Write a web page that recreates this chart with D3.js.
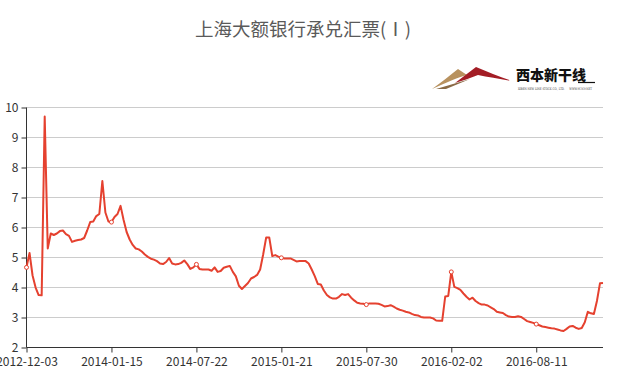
<!DOCTYPE html>
<html><head><meta charset="utf-8">
<script src="https://cdn.jsdelivr.net/npm/d3@7"></script>
<style>body{margin:0;background:#fff;overflow:hidden} svg{display:block}</style>
</head><body>
<script>
// ---- data ----
const title = "上海大额银行承兑汇票(Ⅰ)";
const tickLabels = ["2012-12-03","2014-01-15","2014-07-22","2015-01-21","2015-07-30","2016-02-02","2016-08-11"];
const pointsPerTick = 28;
const yTicks = [2,3,4,5,6,7,8,9,10];
const values = [
 4.67,5.15,4.40,4.00,3.75,3.74,9.70,5.30,5.80,5.75,
 5.80,5.88,5.90,5.78,5.72,5.52,5.56,5.58,5.60,5.65,
 5.90,6.18,6.20,6.38,6.45,7.55,6.50,6.20,6.18,6.35,
 6.45,6.72,6.25,5.85,5.60,5.42,5.30,5.27,5.20,5.10,
 5.02,4.96,4.93,4.88,4.80,4.78,4.85,4.98,4.80,4.77,
 4.78,4.82,4.90,4.78,4.62,4.67,4.77,4.62,4.60,4.60,
 4.60,4.56,4.67,4.52,4.55,4.66,4.69,4.72,4.52,4.37,
 4.06,3.95,4.05,4.15,4.30,4.35,4.42,4.60,5.10,5.67,
 5.67,5.05,5.08,5.03,4.99,4.97,4.97,4.97,4.92,4.87,
 4.88,4.88,4.88,4.80,4.60,4.38,4.12,4.10,3.90,3.75,
 3.67,3.63,3.63,3.69,3.78,3.75,3.78,3.66,3.57,3.49,
 3.47,3.46,3.43,3.47,3.47,3.47,3.46,3.42,3.37,3.38,
 3.41,3.36,3.30,3.26,3.23,3.19,3.17,3.12,3.08,3.07,
 3.02,3.00,3.00,3.00,2.97,2.90,2.89,2.89,3.70,3.72,
 4.52,4.02,3.98,3.92,3.80,3.69,3.60,3.66,3.55,3.48,
 3.43,3.43,3.40,3.34,3.28,3.19,3.17,3.15,3.08,3.03,
 3.02,3.02,3.04,3.02,2.95,2.88,2.85,2.82,2.78,2.74,
 2.70,2.68,2.66,2.64,2.63,2.60,2.57,2.55,2.62,2.70,
 2.72,2.66,2.62,2.65,2.84,3.19,3.14,3.12,3.55,4.14,
 4.15
];

// ---- chart ----
const W = 619, H = 375;
const lineColor = "#e5412f";
const svg = d3.select("body").append("svg").attr("width", W).attr("height", H);

const x = d3.scaleLinear().domain([0, values.length - 1]).range([26.5, 603]);
const y = d3.scaleLinear().domain([2, 10]).range([347.5, 107.5]);

// title
svg.append("text").attr("x", 303).attr("y", 36)
  .attr("text-anchor", "middle")
  .style("font-family", "'Noto Sans CJK SC', sans-serif")
  .style("font-size", "18.5px").style("fill", "#5a5a5a")
  .text(title);

// logo
const logo = svg.append("g");
logo.append("path").attr("d", "M432,89 C442,82 450,75 458,69 L467,75 C458,77 446,83 432,89 Z").attr("fill", "#b8925f");
logo.append("path").attr("d", "M436,89 L470,79 L446,89 Z").attr("fill", "#8a6a45");
logo.append("path").attr("d", "M455,83 C462,78 469,72 476,67 C488,72 500,77 512,81 C500,79 488,77 478,75 C470,78 462,81 455,83 Z").attr("fill", "#a31d25");
logo.append("text").attr("x", 516).attr("y", 80)
  .style("font-family", "'Noto Sans CJK SC', sans-serif").style("font-weight", "900")
  .style("font-size", "14px").style("fill", "#111").text("西本新干线");
logo.append("line").attr("x1", 578).attr("x2", 595).attr("y1", 82.5).attr("y2", 82.5).attr("stroke", "#111").attr("stroke-width", 1.2);
logo.append("text").attr("x", 518).attr("y", 90).attr("textLength", 74).attr("lengthAdjust", "spacingAndGlyphs")
  .style("font-family", "'DejaVu Serif', serif").style("font-size", "3.4px").style("fill", "#333")
  .text("XIBEN NEW LINE STOCK CO., LTD.\u00a0\u00a0\u00a0\u00a0\u00a0\u00a0WWW.96369.NET");

// gridlines
svg.append("g").selectAll("line").data(yTicks.filter(d => d > 2)).join("line")
  .attr("x1", x(0)).attr("x2", x(values.length - 1))
  .attr("y1", d => y(d)).attr("y2", d => y(d))
  .attr("stroke", "#cccccc").attr("stroke-width", 1);

// axes
const fontFam = "'Noto Sans CJK SC', 'Noto Sans', sans-serif";
const yAxis = svg.append("g").attr("transform", `translate(${x(0)},0)`)
  .call(d3.axisLeft(y).tickValues(yTicks).tickSize(5).tickPadding(3).tickFormat(d3.format("d")));
const tickIdx = tickLabels.map((_, i) => i * pointsPerTick);
const xAxis = svg.append("g").attr("transform", `translate(0,${y(2)})`)
  .call(d3.axisBottom(x).tickValues(tickIdx).tickSize(5).tickPadding(5)
    .tickFormat(d => tickLabels[d / pointsPerTick]));
[yAxis, xAxis].forEach(g => {
  g.select(".domain").attr("stroke", "#333");
  g.selectAll(".tick line").attr("stroke", "#333");
  g.selectAll("text").style("font-family", fontFam).style("font-size", "12px").attr("fill", "#333");
});
yAxis.select(".domain").attr("d", `M0,${y(10)}V${y(2)}`);
xAxis.select(".domain").attr("d", `M${x(0)},0H${x(values.length - 1)}`);

// line
const line = d3.line().x((d, i) => x(i)).y(d => y(d));
svg.append("path").datum(values).attr("d", line)
  .attr("fill", "none").attr("stroke", lineColor).attr("stroke-width", 2)
  .attr("stroke-linejoin", "round");

// symbols at tick points
svg.append("g").selectAll("circle").data(tickIdx).join("circle")
  .attr("cx", d => x(d)).attr("cy", d => y(values[d])).attr("r", 2)
  .attr("fill", "#fff").attr("stroke", lineColor).attr("stroke-width", 1);
</script>
</body></html>
